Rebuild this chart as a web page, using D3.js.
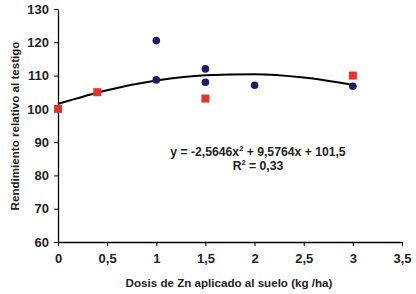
<!DOCTYPE html>
<html>
<head>
<meta charset="utf-8">
<script src="https://cdn.jsdelivr.net/npm/d3@7"></script>
<style>
  body { margin: 0; background: #fff; }
  text { font-family: Arial, "Liberation Sans", sans-serif; font-weight: bold; fill: #222; }
</style>
</head>
<body>
<svg id="chart" width="416" height="294"></svg>
<script>
// data
const blueX = [1, 1, 1.5, 1.5, 2, 3];
const blueY = [120.5, 108.7, 112, 108, 107.1, 106.8];
const redX = [0, 0.4, 1.5, 3];
const redY = [100, 105, 103.1, 110];
// trend line read at a few doses
const trendX = [0, 0.5, 1, 1.5, 2, 2.5, 3];
const trendY = [101.5, 105.6, 108.5, 110.1, 110.4, 109.4, 107.2];
const xTicks = [0, 0.5, 1, 1.5, 2, 2.5, 3, 3.5];
const yTicks = [60, 70, 80, 90, 100, 110, 120, 130];

const margin = { top: 9, right: 14, bottom: 52, left: 58 };
const width = 416 - margin.left - margin.right;
const height = 294 - margin.top - margin.bottom;

const svg = d3.select("#chart");
const g = svg.append("g").attr("transform", `translate(${margin.left},${margin.top})`);

const x = d3.scaleLinear().domain([0, 3.5]).range([0, width]);
const y = d3.scaleLinear().domain([60, 130]).range([height, 0]);
const fmt = d => String(d).replace(".", ",");

const xAxis = g.append("g")
    .attr("transform", `translate(0,${height})`)
    .call(d3.axisBottom(x).tickValues(xTicks).tickFormat(fmt).tickSize(4).tickPadding(8).tickSizeOuter(0));
const yAxis = g.append("g")
    .call(d3.axisLeft(y).tickValues(yTicks).tickSize(4).tickPadding(5).tickSizeOuter(0));

[xAxis, yAxis].forEach(a => {
    a.select(".domain").attr("stroke", "#000").attr("stroke-width", 1.3);
    a.selectAll(".tick line").attr("stroke", "#000");
    a.selectAll(".tick text").attr("font-size", 13).attr("font-family", "Arial, 'Liberation Sans', sans-serif").attr("font-weight", "bold").attr("fill", "#222");
});

// trend line
const line = d3.line().x(d => x(d[0])).y(d => y(d[1])).curve(d3.curveMonotoneX);
g.append("path")
    .datum(d3.zip(trendX, trendY))
    .attr("d", line)
    .attr("fill", "none")
    .attr("stroke", "#000")
    .attr("stroke-width", 2);

// blue circles
g.selectAll("circle")
    .data(d3.zip(blueX, blueY))
    .join("circle")
    .attr("cx", d => x(d[0]))
    .attr("cy", d => y(d[1]))
    .attr("r", 3.8)
    .attr("fill", "#1c1c6b");

// red squares
const sq = 8;
g.selectAll("rect.red")
    .data(d3.zip(redX, redY))
    .join("rect")
    .attr("class", "red")
    .attr("x", d => x(d[0]) - sq / 2)
    .attr("y", d => y(d[1]) - sq / 2)
    .attr("width", sq)
    .attr("height", sq)
    .attr("fill", "#e8312f");

// equation
const eq = g.append("text")
    .attr("x", 258 - margin.left)
    .attr("y", 156 - margin.top)
    .attr("text-anchor", "middle")
    .attr("font-size", 12.2);
eq.append("tspan").text("y = -2,5646x");
eq.append("tspan").attr("font-size", 7.5).attr("dy", -5).text("2");
eq.append("tspan").attr("dy", 5).text(" + 9,5764x + 101,5");

const r2 = g.append("text")
    .attr("x", 258 - margin.left)
    .attr("y", 170 - margin.top)
    .attr("text-anchor", "middle")
    .attr("font-size", 12.2);
r2.append("tspan").text("R");
r2.append("tspan").attr("font-size", 7.5).attr("dy", -5).text("2");
r2.append("tspan").attr("dy", 5).text(" = 0,33");

// axis titles
svg.append("text")
    .attr("x", 229)
    .attr("y", 287)
    .attr("text-anchor", "middle")
    .attr("font-size", 11.6)
    .text("Dosis de Zn aplicado al suelo (kg /ha)");

svg.append("text")
    .attr("transform", "translate(19,126) rotate(-90)")
    .attr("text-anchor", "middle")
    .attr("font-size", 11.6)
    .text("Rendimiento relativo al testigo");
</script>
</body>
</html>
